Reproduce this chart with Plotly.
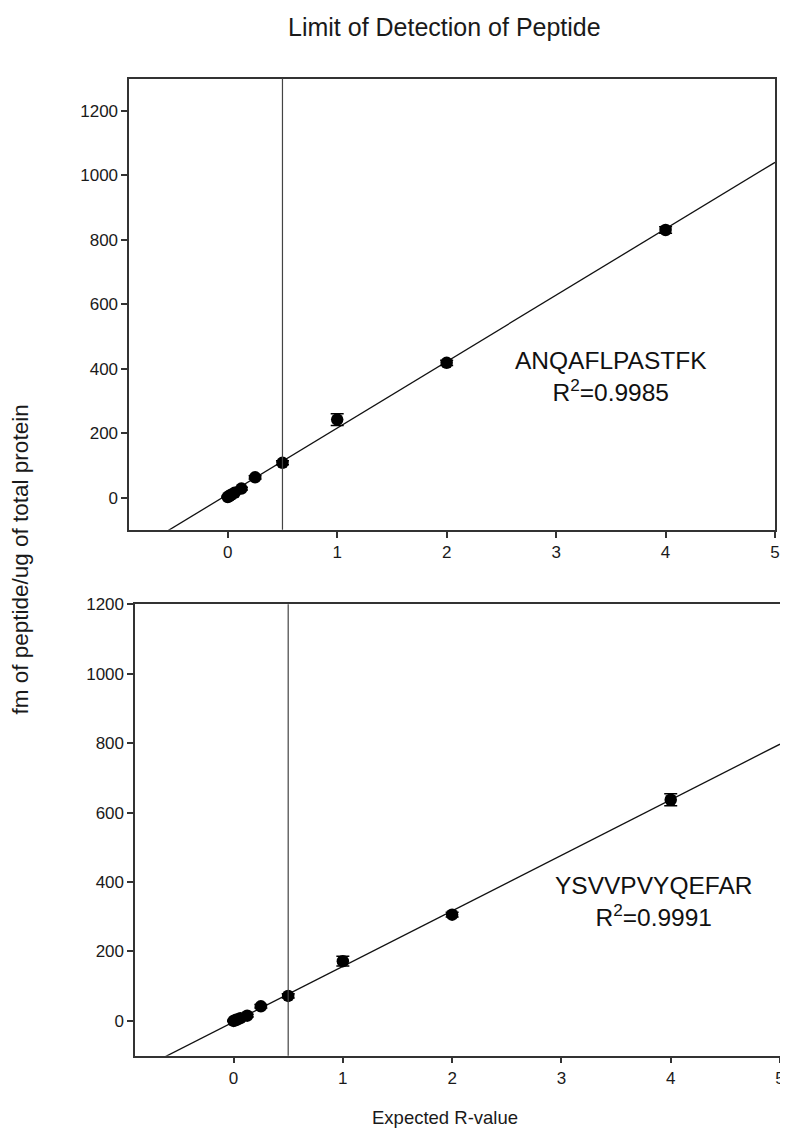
import plotly.graph_objects as go

# Data
expected_r = [0, 0.015625, 0.03125, 0.0625, 0.125, 0.25, 0.5, 1, 2, 4]

anq_values = [2, 5, 9, 15, 28, 63, 108, 242, 418, 830]
anq_errors = [2, 2, 2, 3, 4, 5, 6, 18, 8, 10]
anq_slope, anq_intercept = 206, 10
anq_label = "ANQAFLPASTFK"
anq_r2 = "0.9985"

ysv_values = [0, 2, 4, 8, 15, 42, 72, 172, 306, 637]
ysv_errors = [2, 2, 2, 3, 4, 5, 6, 14, 7, 17]
ysv_slope, ysv_intercept = 160, -3
ysv_label = "YSVVPVYQEFAR"
ysv_r2 = "0.9991"

lod_x = 0.5
x_range = [-0.9, 5]
x_ticks = [0, 1, 2, 3, 4, 5]
y_ticks = [0, 200, 400, 600, 800, 1000, 1200]

FONT = "Liberation Sans, Arial, sans-serif"
AXC = "#333333"
TXT = "#1a1a1a"

# the page body adds an 8px margin; compensate so page pixels match the reference
OFF = 8
W, H = 788 - OFF, 1134 - OFF


def px_x(p):
    return (p - OFF) / W


def px_y(p):
    return 1 - (p - OFF) / H


fig = go.Figure()


def add_panel(vals, errs, slope, intercept, xa, ya):
    fx = [x_range[0], x_range[1]]
    fy = [slope * v + intercept for v in fx]
    fig.add_trace(go.Scatter(x=fx, y=fy, mode="lines", line=dict(color="#111111", width=1.3),
                             xaxis=xa, yaxis=ya, showlegend=False, hoverinfo="skip"))
    fig.add_trace(go.Scatter(x=expected_r, y=vals, mode="markers",
                             marker=dict(color="black", size=12.5),
                             error_y=dict(type="data", array=errs, color="black", thickness=1.5, width=6.5),
                             xaxis=xa, yaxis=ya, showlegend=False))


add_panel(anq_values, anq_errors, anq_slope, anq_intercept, "x", "y")
add_panel(ysv_values, ysv_errors, ysv_slope, ysv_intercept, "x2", "y2")

axis_common = dict(showline=True, linecolor=AXC, linewidth=1.5, mirror=True, ticks="outside",
                   ticklen=6, tickwidth=1.5, tickcolor=AXC, showgrid=False, zeroline=False,
                   tickfont=dict(family=FONT, size=17, color=TXT))

fig.update_layout(
    width=W, height=H, margin=dict(l=0, r=0, t=0, b=0),
    paper_bgcolor="white", plot_bgcolor="white",
    xaxis=dict(domain=[px_x(130), px_x(780)], anchor="y", range=x_range, tickvals=x_ticks, **axis_common),
    yaxis=dict(domain=[px_y(525), px_y(70)], anchor="x", range=[-100, 1300], tickvals=y_ticks, **axis_common),
    xaxis2=dict(domain=[px_x(136), px_x(785)], anchor="y2", range=x_range, tickvals=x_ticks, **axis_common),
    yaxis2=dict(domain=[px_y(1055), px_y(600)], anchor="x2", range=[-100, 1200], tickvals=y_ticks, **axis_common),
    shapes=[
        dict(type="line", xref="x", yref="y domain", x0=lod_x, x1=lod_x, y0=0, y1=1,
             line=dict(color="#444444", width=1.2)),
        dict(type="line", xref="x2", yref="y2 domain", x0=lod_x, x1=lod_x, y0=0, y1=1,
             line=dict(color="#444444", width=1.2)),
    ],
    annotations=[
        dict(text="Limit of Detection of Peptide", xref="paper", yref="paper", x=px_x(447), y=px_y(18),
             showarrow=False, font=dict(family=FONT, size=25, color=TXT), xanchor="center", yanchor="middle"),
        dict(text="fm of peptide/ug of total protein", xref="paper", yref="paper", x=px_x(21), y=px_y(555),
             showarrow=False, textangle=-90, font=dict(family=FONT, size=22.5, color=TXT),
             xanchor="center", yanchor="middle"),
        dict(text="Expected R-value", xref="paper", yref="paper", x=px_x(448), y=px_y(1117),
             showarrow=False, font=dict(family=FONT, size=18.5, color=TXT), xanchor="center", yanchor="middle"),
        dict(text=f"{anq_label}<br>R<sup>2</sup>=" + anq_r2, xref="x", yref="y", x=3.5, y=377,
             showarrow=False, font=dict(family=FONT, size=24.5, color="#111111"), align="center"),
        dict(text=f"{ysv_label}<br>R<sup>2</sup>=" + ysv_r2, xref="x2", yref="y2", x=3.84, y=343,
             showarrow=False, font=dict(family=FONT, size=24.5, color="#111111"), align="center"),
    ],
)

fig.write_html("out.html")
